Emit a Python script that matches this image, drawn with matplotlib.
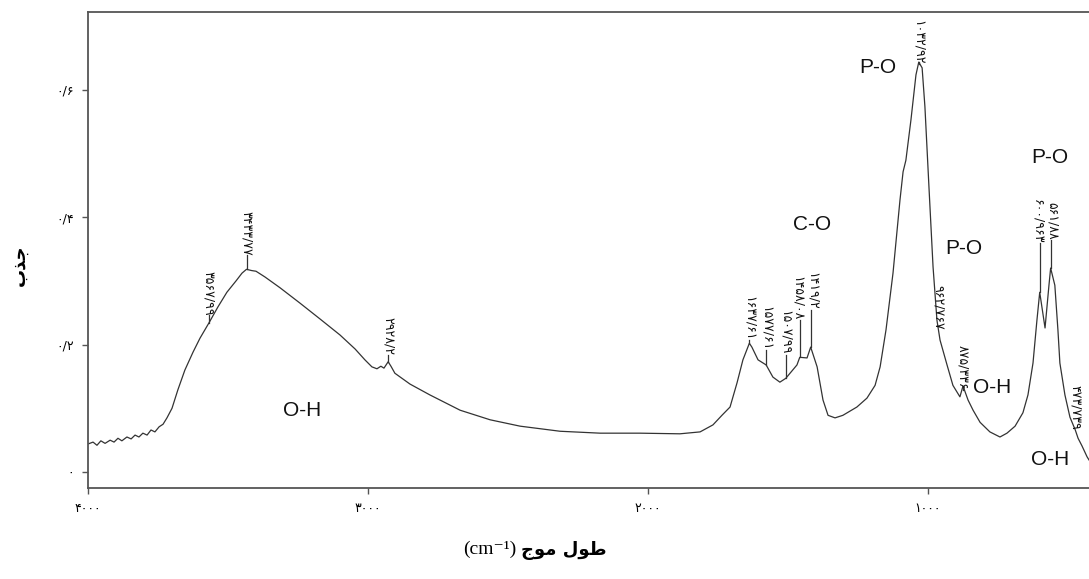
import numpy as np
import matplotlib
matplotlib.use("Agg")
import matplotlib.pyplot as plt

# ---- data (wavenumber cm^-1, absorbance) ----
wavenumber = [4000, 3982, 3968, 3954, 3939, 3921, 3907, 3893, 3879, 3861, 3846, 3832, 3818,
              3804, 3789, 3775, 3761, 3746, 3732, 3718, 3700, 3679, 3654, 3625, 3600, 3568,
              3536, 3504, 3471, 3450, 3434, 3415, 3400, 3368, 3314, 3243, 3171, 3100, 3046,
              3011, 2986, 2968, 2954, 2943, 2928, 2918, 2904, 2850, 2779, 2671, 2564, 2457,
              2314, 2171, 2029, 1886, 1814, 1768, 1736, 1707, 1682, 1661, 1638, 1629, 1607,
              1578, 1554, 1529, 1508, 1468, 1458, 1432, 1419, 1396, 1375, 1357, 1332, 1304,
              1254, 1218, 1189, 1171, 1150, 1125, 1100, 1089, 1079, 1061, 1043, 1033, 1021,
              1011, 996, 982, 968, 957, 932, 911, 886, 875, 857, 839, 814, 779, 743, 718, 689,
              661, 643, 625, 611, 601, 582, 568, 562, 547, 536, 529, 511, 493, 474, 464, 450,
              432, 425]
absorbance = [0.044, 0.047, 0.042, 0.049, 0.045, 0.050, 0.047, 0.053, 0.049, 0.055, 0.052,
              0.058, 0.055, 0.061, 0.058, 0.066, 0.063, 0.071, 0.075, 0.085, 0.100, 0.129,
              0.160, 0.188, 0.210, 0.234, 0.259, 0.282, 0.300, 0.312, 0.318, 0.316, 0.315,
              0.306, 0.289, 0.265, 0.240, 0.215, 0.193, 0.176, 0.165, 0.162, 0.166, 0.163,
              0.173, 0.166, 0.155, 0.138, 0.121, 0.097, 0.082, 0.072, 0.064, 0.061, 0.061,
              0.060, 0.063, 0.074, 0.089, 0.102, 0.140, 0.176, 0.202, 0.196, 0.176, 0.168,
              0.149, 0.141, 0.147, 0.168, 0.180, 0.179, 0.196, 0.165, 0.113, 0.089, 0.085,
              0.089, 0.102, 0.116, 0.136, 0.165, 0.223, 0.312, 0.427, 0.471, 0.489, 0.552,
              0.623, 0.643, 0.634, 0.573, 0.442, 0.322, 0.238, 0.207, 0.168, 0.136, 0.118,
              0.135, 0.113, 0.097, 0.078, 0.063, 0.055, 0.061, 0.072, 0.093, 0.121, 0.171,
              0.238, 0.282, 0.226, 0.293, 0.320, 0.293, 0.223, 0.171, 0.121, 0.086, 0.066,
              0.053, 0.041, 0.024, 0.019]

peak_wn = [3567.99, 3433.77, 2928.2, 1637.61, 1577.61, 1507.99, 1458.08, 1419.2,
           1032.92, 962.67, 875.336, 600.963, 561.88, 473.739]
peak_text = ["۳۵۶۷/۹۹", "۳۴۳۳/۷۷", "۲۹۲۸/۲", "۱۶۳۷/۶۱", "۱۵۷۷/۶۱", "۱۵۰۷/۹۹", "۱۴۵۸/۰۸",
             "۱۴۱۹/۲", "۱۰۳۲/۹۲", "۹۶۲/۷۶۷", "۸۷۵/۳۳۶", "۶۰۰/۹۶۳", "۵۶۱/۸۸", "۴۷۳/۷۳۹"]

group_text = ["O-H", "C-O", "P-O", "P-O", "O-H", "P-O", "O-H"]
group_wn = [3236, 1414, 1179, 871, 771, 564, 564]
group_abs = [0.097, 0.389, 0.635, 0.350, 0.133, 0.493, 0.019]

xticks = [4000, 3000, 2000, 1000]
xtick_labels = ["۴۰۰۰", "۳۰۰۰", "۲۰۰۰", "۱۰۰۰"]
yticks = [0.0, 0.2, 0.4, 0.6]
ytick_labels = ["۰", "۰/۲", "۰/۴", "۰/۶"]

# ---- layout (label text bottoms in absorbance units, horizontal nudge in points) ----
label_bottom = [0.246, 0.340, 0.184, 0.207, 0.191, 0.184, 0.238, 0.254,
                0.640, 0.223, 0.129, 0.359, 0.364, 0.066]
label_nudge = [0, 0, 0, 0, 0, 0, -1.5, 1.5, 0, 0, 0, -1.5, 1.5, 0]

fig = plt.figure(figsize=(10.89, 5.79), dpi=100)
ax = fig.add_axes([88 / 1089, 1 - 488 / 579, 1 - 88 / 1089, (488 - 12) / 579])

line_color = "#333333"
ax.plot(wavenumber, absorbance, color=line_color, lw=0.9)
ax.set_xlim(4000, 425)
ax.set_ylim(-0.025, 0.7216)

for s in ["left", "bottom", "top"]:
    ax.spines[s].set_color("#555555")
    ax.spines[s].set_linewidth(1.3)
ax.spines["right"].set_visible(False)

ax.set_xticks(xticks)
ax.set_xticklabels(xtick_labels, family=["DejaVu Sans"], fontsize=9)
ax.set_yticks(yticks)
ax.set_yticklabels(ytick_labels, family=["DejaVu Sans"], fontsize=9)
ax.tick_params(direction="out", length=4, width=1, color="#555555", pad=6)

wn_r = np.array(wavenumber)[::-1]
ab_r = np.array(absorbance)[::-1]
for wn, txt, top, dx in zip(peak_wn, peak_text, label_bottom, label_nudge):
    yc = float(np.interp(wn, wn_r, ab_r))
    ax.plot([wn, wn], [yc, top], color=line_color, lw=0.9)
    ax.annotate(txt, xy=(wn, top), xytext=(dx, 0), textcoords="offset points",
                rotation=-90, ha="center", va="bottom",
                fontsize=9, family=["DejaVu Sans"], color="#111111")

for txt, x, y in zip(group_text, group_wn, group_abs):
    ax.text(x, y, txt, ha="center", va="center", fontsize=15,
            family=["Liberation Sans"], color="#111111")

# Arabic labels written in visual order with presentation forms
ar_xlabel = "\ufe9d\ufeee\ufee3" + " " + "\ufedd\ufeee\ufec3"
fig.text(521 / 1089, 1 - 551 / 579, ar_xlabel, ha="left", va="center", fontsize=13,
         fontweight="bold", family=["DejaVu Sans"])
fig.text(516 / 1089, 1 - 549 / 579, "(cm\u207b\u00b9)", ha="right", va="center",
         fontsize=14, family=["Liberation Serif", "DejaVu Sans"])
ylabel = "\ufe8f\ufeac\ufe9f"
fig.text(20 / 1089, 1 - 265 / 579, ylabel, rotation=90, ha="center", va="center",
         fontsize=13, fontweight="bold", family=["DejaVu Sans"])

fig.savefig("out.png", dpi=100)
